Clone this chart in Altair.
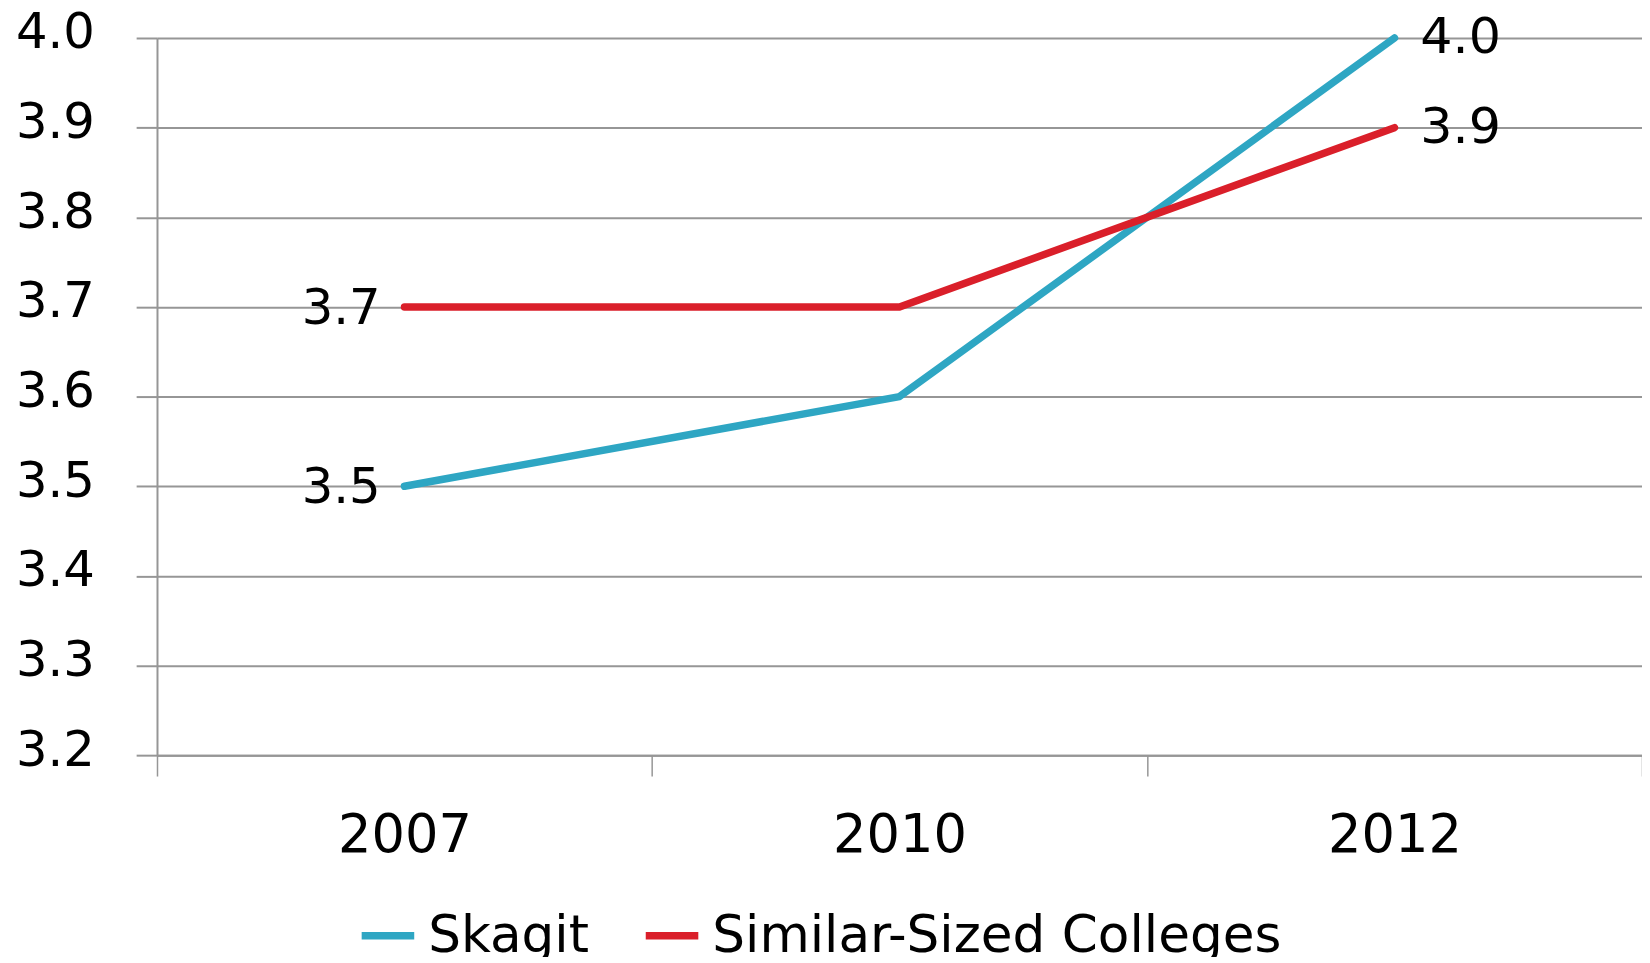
import altair as alt
import pandas as pd

years = ["2007", "2010", "2012"]
series = ["Skagit", "Similar-Sized Colleges"]
skagit = [3.5, 3.6, 4.0]
similar = [3.7, 3.7, 3.9]
colors = ["#2EA6C3", "#DA1F2A"]
y_ticks = [3.2, 3.3, 3.4, 3.5, 3.6, 3.7, 3.8, 3.9, 4.0]

rows = []
for s, vals in zip(series, [skagit, similar]):
    for yr, v in zip(years, vals):
        rows.append({"Year": yr, "Series": s, "Value": v})
df = pd.DataFrame(rows)

FONT = "DejaVu Sans"
GRID = "#969696"

base = alt.Chart(df).encode(
    x=alt.X(
        "Year:N",
        sort=years,
        scale=alt.Scale(paddingInner=0, paddingOuter=0),
        axis=alt.Axis(
            title=None,
            labelAngle=0,
            tickBand="extent",
            tickSize=21,
            tickColor=GRID,
            tickWidth=1.5,
            domainColor=GRID,
            domainWidth=2,
            labelFontSize=53,
            labelFont=FONT,
            labelColor="black",
            labelPadding=34,
            grid=False,
        ),
    ),
    y=alt.Y(
        "Value:Q",
        scale=alt.Scale(domain=[3.2, 4.0], nice=False, zero=False),
        axis=alt.Axis(
            title=None,
            values=y_ticks,
            format=".1f",
            tickSize=21,
            tickColor=GRID,
            tickWidth=2,
            domainColor=GRID,
            domainWidth=2,
            gridColor=GRID,
            gridWidth=2,
            labelFontSize=50,
            labelFont=FONT,
            labelColor="black",
            labelPadding=42,
            labelOffset=-5,
        ),
    ),
)

lines = base.mark_line(strokeWidth=7.5, strokeCap="round", strokeJoin="round").encode(
    color=alt.Color(
        "Series:N",
        sort=series,
        scale=alt.Scale(domain=series, range=colors),
        legend=alt.Legend(
            title=None,
            orient="none",
            legendX=202,
            legendY=873,
            direction="horizontal",
            columns=2,
            columnPadding=42,
            symbolType="stroke",
            symbolSize=2800,
            symbolStrokeWidth=7.5,
            labelFontSize=52,
            labelFont=FONT,
            labelColor="black",
            labelOffset=10,
            padding=0,
            labelLimit=800,
        ),
    )
)

left_labels = base.transform_filter(alt.datum.Year == years[0]).mark_text(
    align="right", baseline="middle", dx=-24, dy=2, fontSize=50, font=FONT, color="black"
).encode(text=alt.Text("Value:Q", format=".1f"))

right_labels = base.transform_filter(alt.datum.Year == years[-1]).mark_text(
    align="left", baseline="middle", dx=26, dy=0, fontSize=51, font=FONT, color="black"
).encode(text=alt.Text("Value:Q", format=".1f"))

chart = (
    alt.layer(lines, left_labels, right_labels)
    .properties(
        width=1495,
        height=722,
        autosize=alt.AutoSizeParams(type="none"),
        padding={"left": 150, "top": 27, "right": 0, "bottom": 200},
    )
    .configure_view(strokeWidth=0)
    .configure(background="white")
)

chart.save("out.html", embed_options={"renderer": "svg", "actions": False})
